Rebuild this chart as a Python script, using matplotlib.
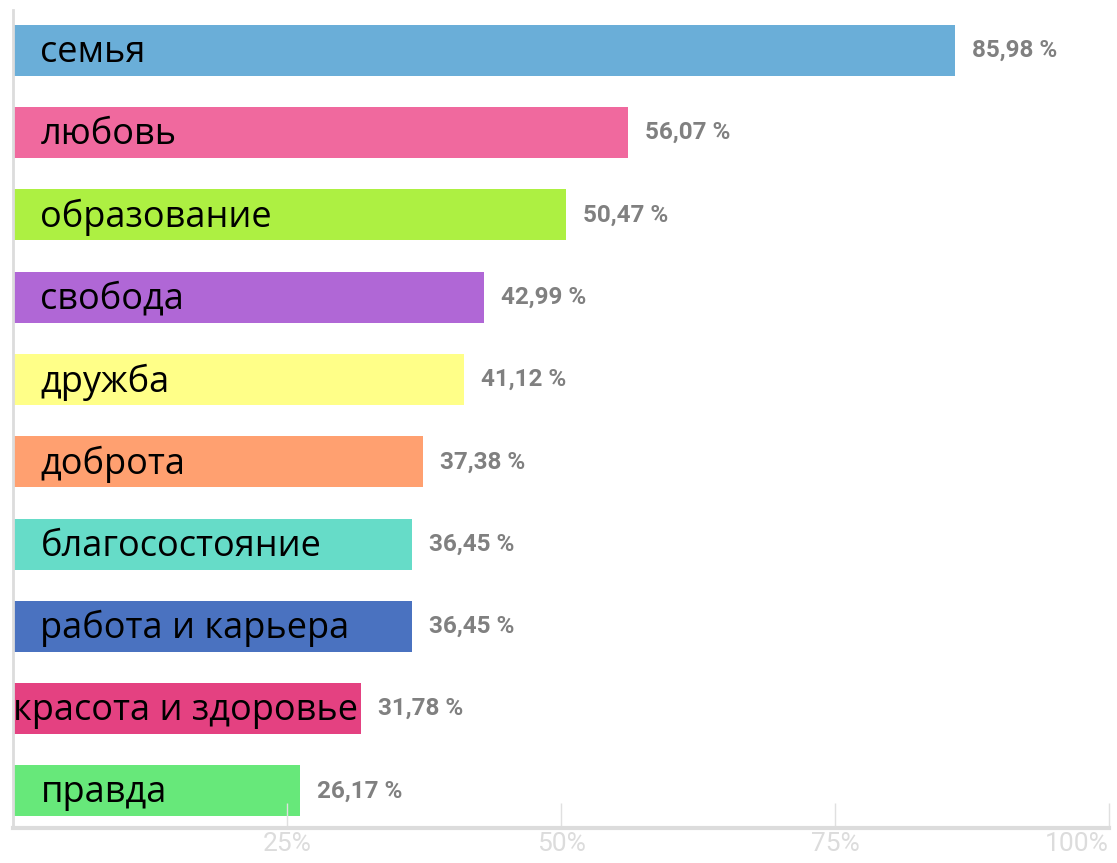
import matplotlib
matplotlib.use('Agg')
import matplotlib.pyplot as plt

# Данные
categories = ['семья', 'любовь', 'образование', 'свобода', 'дружба', 'доброта',
              'благосостояние', 'работа и карьера', 'красота и здоровье', 'правда']
values = [85.98, 56.07, 50.47, 42.99, 41.12, 37.38, 36.45, 36.45, 31.78, 26.17]
colors = ['#6AAED8', '#F0699E', '#ADF042', '#B067D6', '#FFFF88', '#FFA070',
          '#66DCC8', '#4A72C0', '#E44181', '#67E87A']
ticks = [25, 50, 75, 100]
tick_labels = ['25%', '50%', '75%', '100%']

fig = plt.figure(figsize=(11.17, 8.63), dpi=100)
ax = fig.add_axes([13/1117, 35/863, 1096/1117, 818/863])

y = list(range(len(categories)))
ax.barh(y, values, height=0.62, color=colors)

for i, (cat, v) in enumerate(zip(categories, values)):
    x0 = 0.0 if len(cat) > 16 else 2.5
    ax.text(x0, i + 0.03, cat, va='center', ha='left', fontsize=26,
            family='Open Sans', color='black')
    ax.text(v + 1.55, i, '%s %%' % ('%.2f' % v).replace('.', ','),
            va='center', ha='left', fontsize=17.5, fontweight='bold',
            family='Roboto', color='#808080')

ax.set_xlim(0, 100)
ax.set_ylim(9.45, -0.49)
ax.set_yticks([])
ax.set_xticks(ticks)
ax.set_xticklabels(tick_labels, fontsize=19, color='#dcdcdc', family='Roboto')
ax.get_xticklabels()[-1].set_horizontalalignment('right')
ax.tick_params(axis='x', direction='in', length=18, width=1, color='#e0e0e0', pad=3)

for s in ['top', 'right']:
    ax.spines[s].set_visible(False)
ax.spines['left'].set_color('#dcdcdc')
ax.spines['left'].set_linewidth(2)
ax.spines['bottom'].set_color('#dcdcdc')
ax.spines['bottom'].set_linewidth(3)

fig.savefig('out.png', dpi=100)
